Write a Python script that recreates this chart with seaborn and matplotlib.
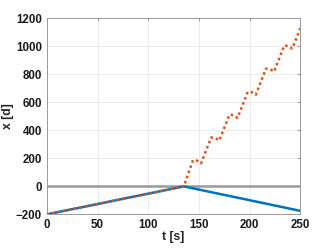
import numpy as np
import pandas as pd
import matplotlib
matplotlib.use('Agg')
import matplotlib.pyplot as plt
import seaborn as sns

# blue trajectory
t_blue = [0, 135, 250]
x_blue = [-200, 0, -175]

# orange (dotted) trajectory
t_orange = [0, 135, 144, 148, 152, 162, 166, 170, 180, 184, 188, 198, 202,
            206, 216, 220, 224, 234, 238, 242, 250]
x_orange = [-200, 0, 187, 184, 165, 349, 347, 328, 512, 510, 490, 675, 673,
            655, 841, 838, 820, 1006, 1003, 985, 1132]

x_ticks = [0, 50, 100, 150, 200, 250]
y_ticks = [-200, 0, 200, 400, 600, 800, 1000, 1200]

sns.set_style('whitegrid')
plt.rcParams['font.family'] = ['Liberation Sans', 'DejaVu Sans']

fig = plt.figure(figsize=(3.32, 2.49), dpi=100)
ax = fig.add_axes([0.141, 0.139, 0.764, 0.787])

blue = '#0072BD'
orange = '#D95319'

ax.axhline(0, color='#9a9a9a', lw=1.8, zorder=1)

df_b = pd.DataFrame({'t': t_blue, 'x': x_blue})
df_o = pd.DataFrame({'t': t_orange, 'x': x_orange})
sns.lineplot(data=df_b, x='t', y='x', ax=ax, color=blue, lw=1.8,
             sort=False, estimator=None, zorder=2)
sns.lineplot(data=df_o, x='t', y='x', ax=ax, color=orange, lw=1.8,
             sort=False, estimator=None, zorder=3, dashes=False)
ax.lines[-1].set_dashes([1.0, 1.2])

ax.set_xlim(0, 250)
ax.set_ylim(-200, 1200)
ax.set_xticks(x_ticks)
ax.set_yticks(y_ticks)
ax.set_xlabel('t [s]', fontsize=8.8, fontweight='bold', labelpad=0,
              color='#262626')
ax.set_ylabel('x [d]', fontsize=8.8, fontweight='bold', labelpad=1,
              color='#262626')

for lab in ax.get_xticklabels() + ax.get_yticklabels():
    lab.set_fontweight('bold')
ax.tick_params(labelsize=8.3, direction='in', length=2.5, width=0.6,
               color='#8a8a8a', pad=3.5, top=True, right=True,
               labelcolor='#1a1a1a')
ax.grid(True, color='#e8e8e8', lw=0.6)
for s in ax.spines.values():
    s.set_color('#9a9a9a')
    s.set_linewidth(0.7)

fig.savefig('out.png', dpi=100)
